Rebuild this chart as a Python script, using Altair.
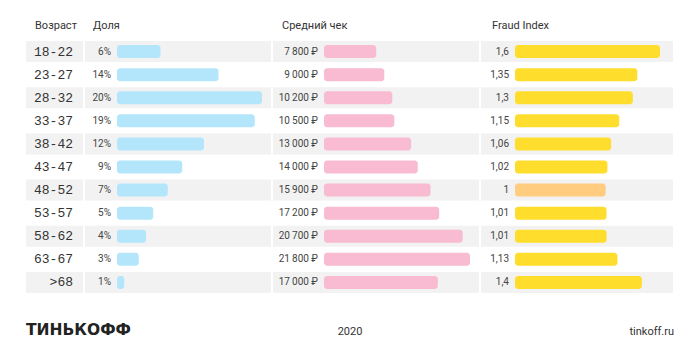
import altair as alt
import pandas as pd

ages = ["18-22", "23-27", "28-32", "33-37", "38-42", "43-47", "48-52", "53-57", "58-62", "63-67", ">68"]
share = [6, 14, 20, 19, 12, 9, 7, 5, 4, 3, 1]
check = [7800, 9000, 10200, 10500, 13000, 14000, 15900, 17200, 20700, 21800, 17000]
fraud = [1.6, 1.35, 1.3, 1.15, 1.06, 1.02, 1, 1.01, 1.01, 1.13, 1.4]

headers = ["Возраст", "Доля", "Средний чек", "Fraud Index"]
footer = ["ТИНЬКОФФ", "2020", "tinkoff.ru"]

BLUE = "#b3e5fb"
PINK = "#f8bbd1"
YELLOW = "#ffdd2d"
ORANGE = "#ffcc80"
STRIPE = "#f2f2f2"
TXT = "#333333"


def rub(v):
    s = f"{v:,}".replace(",", "\u2009")
    return s + "\u00a0₽"


df = pd.DataFrame({
    "age": ages,
    "share": share,
    "share_lbl": [f"{v}%" for v in share],
    "check": check,
    "check_lbl": [rub(v) for v in check],
    "fraud": fraud,
    "fraud_lbl": [f"{v:g}".replace(".", ",") for v in fraud],
    "stripe": [i % 2 == 0 for i in range(len(ages))],
    "hl": ["base" if v != 1 else "one" for v in fraud],
})

H = 254
yenc = alt.Y("age:N", sort=ages, axis=None,
             scale=alt.Scale(paddingInner=0.09, paddingOuter=0.045))

base = alt.Chart(df)


def title(t, dx):
    return alt.TitleParams(t, anchor="start", fontSize=11, fontWeight="normal",
                           color=TXT, font="Roboto", dx=dx, offset=9)


def stripes(w):
    return base.transform_filter("datum.stripe").mark_rect(color=STRIPE).encode(
        y=yenc, x=alt.value(0), x2=alt.value(w))


# Age panel
WA = 57
age_panel = alt.layer(
    stripes(WA),
    base.mark_text(align="right", baseline="middle", font="Liberation Mono",
                   fontSize=13, color=TXT).encode(
        y=yenc, x=alt.value(WA - 10), text="age:N"),
).properties(width=WA, height=H, title=title(headers[0], 9))


def metric_panel(w, field, lbl, dom, rng, color_enc, head, dx):
    xs = alt.Scale(domain=dom, range=rng)
    return alt.layer(
        stripes(w),
        base.mark_bar(size=13, cornerRadius=3).encode(
            y=yenc,
            x=alt.X(f"{field}:Q", scale=xs, axis=None, stack=None),
            x2=alt.datum(0),
            color=color_enc),
        base.mark_text(align="right", baseline="middle", dx=-6, font="Roboto",
                       fontSize=10, color="#444444").encode(
            y=yenc, x=alt.X(datum=0, scale=xs), text=f"{lbl}:N"),
    ).properties(width=w, height=H, title=title(head, dx))


share_panel = metric_panel(186, "share", "share_lbl", [0, 20], [32, 177],
                           alt.value(BLUE), headers[1], 8)
check_panel = metric_panel(206, "check", "check_lbl", [0, 21800], [51, 197],
                           alt.value(PINK), headers[2], 9)
fraud_panel = metric_panel(192, "fraud", "fraud_lbl", [0, 1.6], [34, 179],
                           alt.Color("hl:N", scale=alt.Scale(domain=["base", "one"],
                                                            range=[YELLOW, ORANGE]),
                                     legend=None),
                           headers[3], 11)

row = alt.hconcat(age_panel, share_panel, check_panel, fraud_panel, spacing=2)

fdf = pd.DataFrame({"t": footer})
FW = 648
foot = alt.layer(
    alt.Chart(fdf).transform_filter(alt.datum.t == footer[0]).mark_text(
        align="left", baseline="middle", font="DejaVu Sans", fontWeight="bold",
        fontSize=15.5, color="#222222").encode(
        text="t:N", x=alt.value(0), y=alt.value(10)),
    alt.Chart(fdf).transform_filter(alt.datum.t == footer[1]).mark_text(
        align="center", baseline="middle", font="Roboto", fontSize=11,
        color=TXT).encode(text="t:N", x=alt.value(FW / 2), y=alt.value(12)),
    alt.Chart(fdf).transform_filter(alt.datum.t == footer[2]).mark_text(
        align="right", baseline="middle", font="Roboto", fontSize=11,
        color=TXT).encode(text="t:N", x=alt.value(FW), y=alt.value(12)),
).properties(width=FW, height=20)

chart = alt.vconcat(row, foot, spacing=26).properties(
    padding={"left": 26, "top": 20, "right": 26, "bottom": 10},
    background="white",
).configure_view(stroke=None, strokeWidth=0)

chart.save("out.html", embed_options={"renderer": "svg", "actions": False})
